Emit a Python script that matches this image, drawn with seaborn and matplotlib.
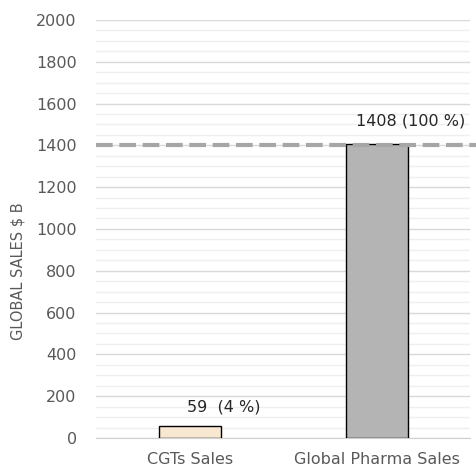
import matplotlib
matplotlib.use('Agg')
import matplotlib.pyplot as plt
import matplotlib.ticker as mtick
import pandas as pd
import seaborn as sns

# ── Data ──────────────────────────────────────────────────────────────────────
categories = ['CGTs Sales', 'Global Pharma Sales']
sales      = [59, 1408]
share_pct  = [4, 100]
ref_level  = 1400

# ── Style ─────────────────────────────────────────────────────────────────────
BAR_COLORS = ['#fee8cb', '#b4b4b4']
TEXT_GRAY  = '#595959'

sns.set_style('white')
plt.rcParams.update({
    'font.family': ['DejaVu Sans'],
    'font.size':   12,
})


def main():
    df = pd.DataFrame({'category': categories, 'sales': sales, 'share': share_pct})

    fig = plt.figure(figsize=(4.76, 4.74), dpi=100)
    ax = fig.add_axes([0.202, 0.076, 0.786, 0.882])

    sns.barplot(data=df, x='category', y='sales', hue='category',
                palette=BAR_COLORS, legend=False, width=0.333,
                edgecolor='black', linewidth=1.0, ax=ax, zorder=3)

    ax.set_ylim(0, 2000)
    ax.set_xlim(-0.5, 1.5)
    ax.yaxis.set_major_locator(mtick.MultipleLocator(200))
    ax.yaxis.set_minor_locator(mtick.MultipleLocator(50))
    ax.grid(which='major', axis='y', color='#d9d9d9', linewidth=1.0, zorder=0)
    ax.grid(which='minor', axis='y', color='#efefef', linewidth=1.0, zorder=0)
    ax.set_axisbelow(True)
    for side in ('top', 'right', 'left'):
        ax.spines[side].set_visible(False)
    ax.spines['bottom'].set_color('#d0d0d0')
    ax.tick_params(axis='both', which='both', length=0, colors=TEXT_GRAY,
                   labelsize=11.5)
    ax.tick_params(axis='y', pad=14)
    ax.tick_params(axis='x', pad=10)

    ax.axhline(ref_level, xmax=1.02, color='#a6a6a6', linewidth=3,
               linestyle=(0, (4, 1.6)), zorder=4, clip_on=False)

    ax.set_xlabel('')
    ax.set_ylabel('GLOBAL SALES $ B', fontsize=10.5, color=TEXT_GRAY)
    ax.yaxis.set_label_coords(-0.19, 0.40)

    # value labels: "value (share %)"
    offsets = [8, 11]
    for i, (val, pct) in enumerate(zip(sales, share_pct)):
        gap = '  ' if pct < 10 else ' '
        ax.annotate(f'{val}{gap}({pct} %)', xy=(i + 0.18, val),
                    xytext=(0, offsets[i]), textcoords='offset points',
                    ha='center', va='bottom', fontsize=11.5, color='#262626')

    fig.savefig('out.png', dpi=100)
    plt.close(fig)


if __name__ == '__main__':
    main()
